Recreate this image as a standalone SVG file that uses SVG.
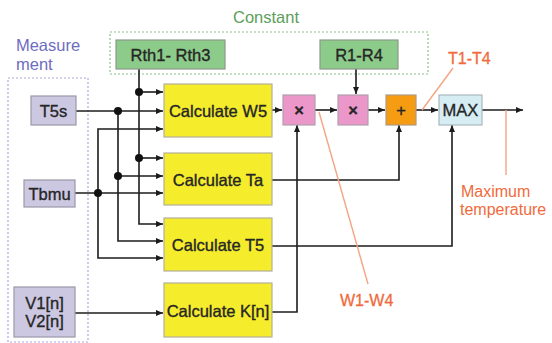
<svg xmlns="http://www.w3.org/2000/svg" width="552" height="343" viewBox="0 0 552 343">
<style>
text{font-family:"Liberation Sans",Arial,sans-serif;}
.lbl{font-size:16.5px;fill:#262626;stroke:#262626;stroke-width:0.35;text-anchor:middle;dominant-baseline:central;}
.meas rect{fill:#cdc8e2;stroke:#9a98a8;stroke-width:1.2;}
.calc rect{fill:#f5ec2c;stroke:#b4b09a;stroke-width:1.2;}
.cst rect{fill:#8ccb8a;stroke:#8a9a8a;stroke-width:1.2;}
.mul rect{fill:#eb97c9;stroke:#b0a0b0;stroke-width:1.2;}
.w{stroke:#1c1c1c;stroke-width:1.6;fill:none;}
.o{stroke:#f5a482;stroke-width:1.4;fill:none;}
.ot{font-size:16px;fill:#f06a3c;}
</style>
<defs>
<marker id="ah" markerUnits="userSpaceOnUse" markerWidth="8" markerHeight="8" refX="7" refY="4" orient="auto">
<path d="M0,1 L7,4 L0,7 Z" fill="#1c1c1c"/>
</marker>
</defs>
<rect width="552" height="343" fill="#fff"/>
<g id="measurement-group">
<rect x="8" y="78" width="80" height="264" fill="none" stroke="#a9a8e2" stroke-width="1.2" stroke-dasharray="2,2"/>
<text x="48" y="51" font-size="16.5" fill="#6e6cc0" text-anchor="middle">Measure</text>
<text x="16" y="70" font-size="16.5" fill="#6e6cc0">ment</text>
</g>
<g id="constant-group">
<rect x="110" y="32" width="318" height="42" fill="none" stroke="#8cc48a" stroke-width="1.2" stroke-dasharray="2,2"/>
<text x="266" y="23" font-size="16.5" fill="#5c9e5a" text-anchor="middle">Constant</text>
</g>
<g id="connectors">
<path class="w" d="M76,111 H163" marker-end="url(#ah)"/>
<path class="w" d="M139,69 V224 H163" marker-end="url(#ah)"/>
<path class="w" d="M139,92 H163" marker-end="url(#ah)"/>
<path class="w" d="M139,158 H163" marker-end="url(#ah)"/>
<path class="w" d="M118,111 V241 H163" marker-end="url(#ah)"/>
<path class="w" d="M118,176 H163" marker-end="url(#ah)"/>
<path class="w" d="M75,193 H163" marker-end="url(#ah)"/>
<path class="w" d="M98,193 V129 H163" marker-end="url(#ah)"/>
<path class="w" d="M98,193 V258 H163" marker-end="url(#ah)"/>
<path class="w" d="M75,313 H163" marker-end="url(#ah)"/>
<path class="w" d="M272,110 H282" marker-end="url(#ah)"/>
<path class="w" d="M315,110 H337" marker-end="url(#ah)"/>
<path class="w" d="M368,110 H385" marker-end="url(#ah)"/>
<path class="w" d="M416,110 H438" marker-end="url(#ah)"/>
<path class="w" d="M482,110 H523" marker-end="url(#ah)"/>
<path class="w" d="M356,69 V94" marker-end="url(#ah)"/>
<path class="w" d="M272,312 H297 V125" marker-end="url(#ah)"/>
<path class="w" d="M272,180 H399 V125" marker-end="url(#ah)"/>
<path class="w" d="M272,246 H452 V125" marker-end="url(#ah)"/>
<g fill="#111">
<circle cx="139" cy="92" r="4"/>
<circle cx="118" cy="111" r="4"/>
<circle cx="98" cy="193" r="4"/>
<circle cx="139" cy="158" r="4"/>
<circle cx="118" cy="176" r="4"/>
</g>
</g>
<g id="T5s" class="meas"><rect x="31" y="96" width="45" height="29"/><text class="lbl" x="53.5" y="111">T5s</text></g>
<g id="Tbmu" class="meas"><rect x="24" y="180" width="51" height="27"/><text class="lbl" x="49.5" y="194">Tbmu</text></g>
<g id="V1V2" class="meas"><rect x="14" y="287" width="61" height="50"/><text class="lbl" x="44.5" y="303">V1[n]</text><text class="lbl" x="44.5" y="321">V2[n]</text></g>
<g id="Rth" class="cst"><rect x="116" y="40" width="109" height="29"/><text class="lbl" x="170.5" y="55">Rth1- Rth3</text></g>
<g id="R1R4" class="cst"><rect x="320" y="40" width="78" height="29"/><text class="lbl" x="359" y="55">R1-R4</text></g>
<g id="calcW5" class="calc"><rect x="164" y="84" width="108" height="53"/><text class="lbl" x="218" y="111">Calculate W5</text></g>
<g id="calcTa" class="calc"><rect x="164" y="153" width="108" height="52"/><text class="lbl" x="218" y="180">Calculate Ta</text></g>
<g id="calcT5" class="calc"><rect x="164" y="218" width="108" height="53"/><text class="lbl" x="218" y="245">Calculate T5</text></g>
<g id="calcK" class="calc"><rect x="164" y="283" width="108" height="54"/><text class="lbl" x="218" y="311">Calculate K[n]</text></g>
<g id="mul1" class="mul"><rect x="283" y="95" width="32" height="30"/><text class="lbl" x="299" y="110" font-size="16" font-weight="bold">×</text></g>
<g id="mul2" class="mul"><rect x="338" y="95" width="30" height="30"/><text class="lbl" x="353" y="110" font-size="16" font-weight="bold">×</text></g>
<g id="plus"><rect x="386" y="95" width="30" height="30" fill="#f59c12" stroke="#b09a80" stroke-width="1.2"/><text class="lbl" x="401" y="110" font-size="20">+</text></g>
<g id="max"><rect x="439" y="95" width="43" height="30" fill="#d6edf3" stroke="#a8b8bc" stroke-width="1.2"/><text class="lbl" x="460.5" y="110" font-size="15">MAX</text></g>
<g id="labels">
<path class="o" d="M506,110 V175"/>
<path class="o" d="M453,68 L422,110"/>
<path class="o" d="M319,112 L368,284"/>
<text class="ot" x="448" y="64" stroke="#f06a3c" stroke-width="0.3">T1-T4</text>
<text class="ot" x="461" y="197">Maximum</text>
<text class="ot" x="460" y="215">temperature</text>
<text class="ot" x="340" y="306" font-size="16.5" stroke="#f06a3c" stroke-width="0.3">W1-W4</text>
</g>
</svg>
